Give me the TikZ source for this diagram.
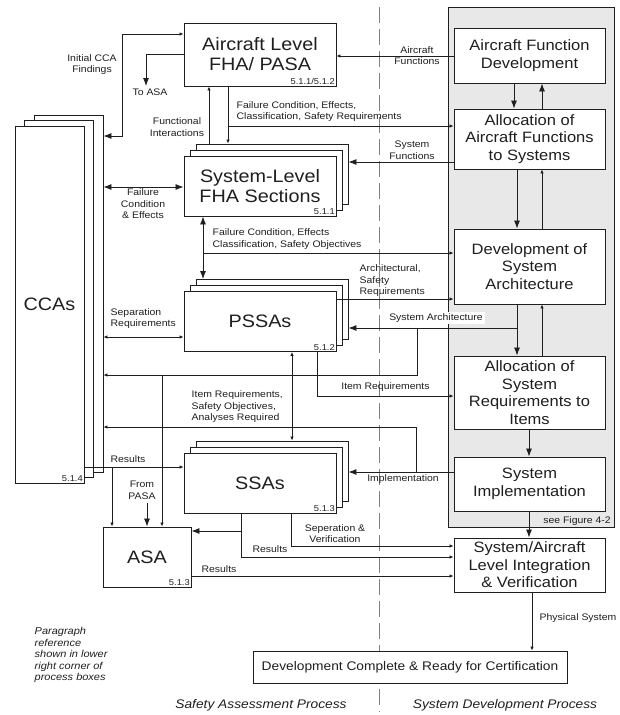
\documentclass[tikz,border=0pt]{standalone}
\usepackage{fontspec}
\setmainfont{Liberation Sans}[FakeStretch=1.1]
\usetikzlibrary{arrows.meta,calc}
\definecolor{panel}{gray}{0.91}
\definecolor{ink}{gray}{0.12}

\tikzset{
  box/.style={draw=ink, fill=white, line width=0.9pt, align=center, inner sep=1pt, text=ink},
  lbox/.style={box, minimum width=152, minimum height=60, font=\fontsize{18}{20}\selectfont},
  rbox/.style={box, minimum width=151, font=\fontsize{15}{17.5}\selectfont},
  arr/.style={draw=ink, line width=0.8pt, -{Latex[length=8pt,width=6pt]}},
  tip/.style={draw=ink, line width=0.8pt, -{Latex[length=4pt,width=3.5pt]}},
  fnd/.style={draw=ink, line width=0.8pt, {Latex[length=4pt,width=3.5pt]}-{Latex[length=8pt,width=6pt]}},
  dbl/.style={draw=ink, line width=0.8pt, {Latex[length=8pt,width=6pt]}-{Latex[length=8pt,width=6pt]}},
  sdbl/.style={draw=ink, line width=0.8pt, {Latex[length=4pt,width=3.5pt]}-{Latex[length=4pt,width=3.5pt]}},
  lbl/.style={font=\fontsize{9.5}{11.5}\selectfont, inner sep=0.5pt, text=ink},
  num/.style={font=\fontsize{8.5}{9}\selectfont, anchor=south east, inner sep=1.5pt, text=ink},
  title/.style={font=\fontsize{12.5}{14}\selectfont\itshape, text=ink}
}

\begin{document}
\begin{tikzpicture}[x=1pt,y=-1pt]
\useasboundingbox (0,0) rectangle (620,715);

% system development column and process divider
\fill[panel, draw=ink, line width=1pt] (448,7) rectangle (614,527);
\draw[gray, dash pattern=on 16pt off 6pt, line width=0.8pt] (379,7) -- (379,712);

% safety assessment boxes (stacked ones first)
\node[box, minimum width=69, minimum height=357] (ccab) at (68.5,293.5) {};
\node[box, minimum width=69, minimum height=357] (ccam) at (59,299) {};
\node[box, minimum width=69, minimum height=357, font=\fontsize{18}{20}\selectfont] (cca) at (49.5,304.5) {CCAs};
\foreach \n/\y in {sfha/186, pssa/321.5, ssa/483} {
  \node[lbox] (\n2) at (272,\y-12) {};
  \node[lbox] (\n1) at (266,\y-6) {};
}
\node[lbox, minimum height=63] (fha) at (260,54.5) {Aircraft Level\\FHA/ PASA};
\node[lbox] (sfha) at (260,186) {System-Level\\FHA Sections};
\node[lbox] (pssa) at (260,321.5) {PSSAs};
\node[lbox] (ssa) at (260,483) {SSAs};
\node[lbox, minimum width=88] (asa) at (147,557) {ASA};

\node[num] (ccanum) at (cca.south east) {5.1.4};
\node[num] (fhanum) at (fha.south east) {5.1.1/5.1.2};
\node[num] (sfhanum) at (sfha.south east) {5.1.1};
\node[num] (pssanum) at (pssa.south east) {5.1.2};
\node[num] (ssanum) at (ssa.south east) {5.1.3};
\node[num] (asanum) at (asa.south east) {5.1.3};

% system development boxes
\node[rbox, minimum height=55] (afd) at (529.5,55.5) {Aircraft Function\\Development};
\node[rbox, minimum height=60] (aafs) at (529.5,139) {Allocation of\\Aircraft Functions\\to Systems};
\node[rbox, minimum height=75] (dsa) at (529.5,266.5) {Development of\\System\\Architecture};
\node[rbox, minimum height=73] (asri) at (529.5,392.5) {Allocation of\\System\\Requirements to\\Items};
\node[rbox, minimum height=54] (simp) at (529.5,484) {System\\Implementation};
\node[rbox, minimum height=54] (sint) at (529.5,565) {System/Aircraft\\Level Integration\\\& Verification};
\node[box, minimum width=314, minimum height=32, font=\fontsize{12.5}{14}\selectfont] (done) at (410,667) {Development Complete \& Ready for Certification};

\coordinate (toasa) at (146,86);
\coordinate (frompasa) at (147,503);

% aircraft level FHA links
\draw[fnd] (fha.west |- 0,34) -| (122,136) -- (ccab.east |- 0,136);
\draw[arr] (fha.west |- 0,54) -| (toasa);
\draw[tip] (sfha2.north -| 209,0) -- (fha.south -| 209,0);
\draw[tip] (fha.south -| 228,0) -- (sfha2.north -| 228,0);
\draw[tip] (228,126) -- (aafs.west |- 0,126);
\draw[tip] (afd.west |- 0,56) -- (fha.east |- 0,56);

% development column flow
\draw[arr] (afd.south -| 514,0) -- (aafs.north -| 514,0);
\draw[arr] (aafs.north -| 542,0) -- (afd.south -| 542,0);
\draw[arr] (aafs.west |- 0,162) -- (sfha2.east |- 0,162);
\draw[arr] (aafs.south -| 517,0) -- (dsa.north -| 517,0);
\draw[tip] (dsa.north -| 542,0) -- (aafs.south -| 542,0);
\draw[arr] (dsa.south -| 517,0) -- (asri.north -| 517,0);
\draw[tip] (asri.north -| 542,0) -- (dsa.south -| 542,0);
\draw[arr] (asri.south -| 529,0) -- (simp.north -| 529,0);
\draw[arr] (simp.south -| 529,0) -- (sint.north -| 529,0);
\draw[tip] (sint.south -| 532,0) -- (done.north -| 532,0);

% FHA sections and PSSAs
\draw[dbl] (ccab.east |- 0,187) -- (sfha.west |- 0,187);
\draw[dbl] (sfha.south -| 203,0) -- (pssa2.north -| 203,0);
\draw[tip] (203,253) -- (dsa.west |- 0,253);
\draw[sdbl] (ccab.east |- 0,337) -- (pssa.west |- 0,337);
\draw[tip] (pssa.east |- 0,299) -- (dsa.west |- 0,299);
\draw[arr] (517,328) -- (pssa2.east |- 0,328);
\draw[tip] (417,328) |- (ccab.east |- 0,375);
\draw[tip] (162,375) -- (asa.north -| 162,0);
\draw[tip] (pssa.south -| 317,0) |- (asri.west |- 0,396);
\draw[sdbl] (pssa.south -| 292,0) -- (ssa2.north -| 292,0);

% SSAs and ASA
\draw[arr] (simp.west |- 0,472) -- (ssa2.east |- 0,472);
\draw[tip] (416,472) |- (ccab.east |- 0,427);
\draw[tip] (cca.east |- 0,467) -- (ssa.west |- 0,467);
\draw[tip] (112,467) -- (asa.north -| 112,0);
\draw[arr] (frompasa) -- (asa.north -| 147,0);
\draw[tip] (ssa.south -| 291,0) |- (sint.west |- 0,546);
\draw[tip] (ssa.south -| 241,0) |- (sint.west |- 0,557);
\draw[arr] (241,531) -- (asa.east |- 0,531);
\draw[tip] (asa.east |- 0,576) -- (sint.west |- 0,576);

% labels
\node[lbl, align=center] (lcca) at (92,64.5) {Initial CCA\\Findings};
\node[lbl] (lasa) at (150,92) {To ASA};
\node[lbl, align=center] (lfi) at (177,127) {Functional\\Interactions};
\node[lbl, align=left, anchor=west] (lfcr) at (236,111.5) {Failure Condition, Effects,\\Classification, Safety Requirements};
\node[lbl, align=center] (laf) at (417,55.5) {Aircraft\\Functions};
\node[lbl, align=center] (lsf) at (412,150) {System\\Functions};
\node[lbl, align=center] (lfce) at (143,204) {Failure\\Condition\\\& Effects};
\node[lbl, align=left, anchor=west] (lfco) at (212,239) {Failure Condition, Effects\\Classification, Safety Objectives};
\node[lbl, align=left, anchor=west] (lasr) at (359,281) {Architectural,\\Safety\\Requirements};
\node[lbl, fill=white, inner sep=2pt] (lsa) at (436,318) {System Architecture};
\node[lbl, align=left, anchor=west] (lsr) at (110,318.5) {Separation\\Requirements};
\node[lbl] (lir) at (385.5,387) {Item Requirements};
\node[lbl, align=left, anchor=west] (lirs) at (191,407) {Item Requirements,\\Safety Objectives,\\Analyses Required};
\node[lbl] (limp) at (403,479) {Implementation};
\node[lbl] (lres1) at (128,459) {Results};
\node[lbl, align=center] (lpasa) at (142,490.5) {From\\PASA};
\node[lbl, align=center] (lsv) at (335,533.5) {Seperation \&\\Verification};
\node[lbl] (lres2) at (270,549) {Results};
\node[lbl] (lres3) at (219,569) {Results};
\node[lbl] (lfig) at (577,521) {see Figure 4-2};
\node[lbl, anchor=west] (lphy) at (539,618) {Physical System};
\node[lbl, font=\fontsize{10}{11.5}\selectfont\itshape, align=left, anchor=west] (lnote) at (34,655) {Paragraph\\reference\\shown in lower\\right corner of\\process boxes};
\node[title] (lsap) at (261,705) {Safety Assessment Process};
\node[title] (lsdp) at (505,705) {System Development Process};
\end{tikzpicture}
\end{document}
